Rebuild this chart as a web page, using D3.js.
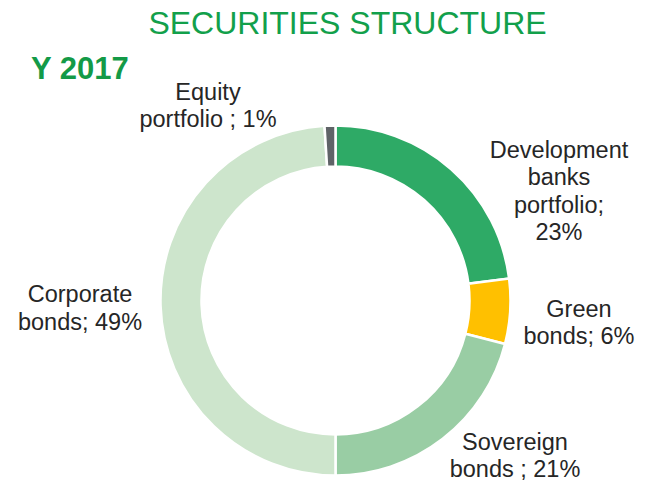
<!DOCTYPE html>
<html>
<head>
<meta charset="utf-8">
<script src="https://cdn.jsdelivr.net/npm/d3@7"></script>
<style>
  body { margin: 0; background: #fff; }
  svg { display: block; }
</style>
</head>
<body>
<script>
const categories = ["Development banks portfolio", "Green bonds", "Sovereign bonds", "Corporate bonds", "Equity portfolio"];
const shares = [23, 6, 21, 49, 1];
const labelLines = [
  ["Development", "banks", "portfolio;", "23%"],
  ["Green", "bonds; 6%"],
  ["Sovereign", "bonds ; 21%"],
  ["Corporate", "bonds; 49%"],
  ["Equity", "portfolio ; 1%"]
];
const colors = ["#2eaa66", "#ffc000", "#99cda4", "#cde5cc", "#5f6367"];

// where each label block sits (x centre, first baseline)
const labelAt = [[559, 157.5], [579, 316.5], [515, 449.5], [80, 302], [208, 99.5]];

const width = 666, height = 483;
const cx = 335.5, cy = 300.5;
const outerR = 175, innerR = 134;

const svg = d3.select("body").append("svg")
  .attr("width", width)
  .attr("height", height);

svg.append("text")
  .attr("x", 347.5)
  .attr("y", 33.5)
  .attr("text-anchor", "middle")
  .attr("font-family", "Liberation Sans, Arial, sans-serif")
  .attr("font-size", 32)
  .attr("fill", "#12a04b")
  .text("SECURITIES STRUCTURE");

svg.append("text")
  .attr("x", 31)
  .attr("y", 78.5)
  .attr("font-family", "Liberation Sans, Arial, sans-serif")
  .attr("font-size", 31)
  .attr("font-weight", "bold")
  .attr("fill", "#139a47")
  .text("Y 2017");

const data = categories.map((c, i) => ({ name: c, value: shares[i], lines: labelLines[i], color: colors[i], at: labelAt[i] }));

const pie = d3.pie().sort(null).value(d => d.value);
const arc = d3.arc().innerRadius(innerR).outerRadius(outerR);

svg.append("g")
  .attr("transform", `translate(${cx},${cy})`)
  .selectAll("path")
  .data(pie(data))
  .join("path")
  .attr("d", arc)
  .attr("fill", d => d.data.color)
  .attr("stroke", "#fff")
  .attr("stroke-width", 2.5);

const labels = svg.append("g")
  .selectAll("text")
  .data(data)
  .join("text")
  .attr("text-anchor", "middle")
  .attr("font-family", "Liberation Sans, Arial, sans-serif")
  .attr("font-size", 23.5)
  .attr("fill", "#262626");

labels.selectAll("tspan")
  .data(d => d.lines.map((l, i) => ({ text: l, x: d.at[0], y: d.at[1] + i * 27.6 })))
  .join("tspan")
  .attr("x", d => d.x)
  .attr("y", d => d.y)
  .text(d => d.text);
</script>
</body>
</html>
